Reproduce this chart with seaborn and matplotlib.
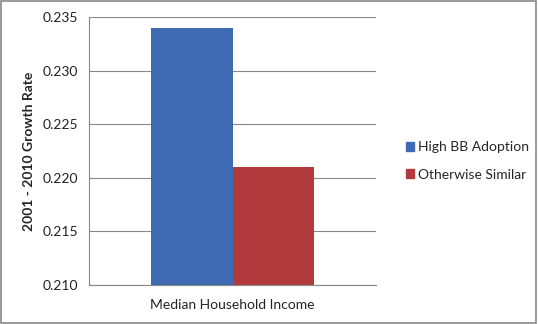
import matplotlib
matplotlib.use("Agg")
import matplotlib.pyplot as plt
import seaborn as sns
import pandas as pd
from matplotlib.patches import Rectangle

categories = ["Median Household Income"]
series = ["High BB Adoption", "Otherwise Similar"]
values = [0.234, 0.221]
yticks = [0.210, 0.215, 0.220, 0.225, 0.230, 0.235]
colors = ["#3E6BB1", "#B13A3C"]

df = pd.DataFrame({
    "category": categories * len(series),
    "series": series,
    "value": values,
})

sns.set_style("white")
plt.rcParams["font.family"] = ["Lato", "DejaVu Sans"]

fig = plt.figure(figsize=(5.38, 3.24), dpi=100)
ax = fig.add_axes([89/538, 39/324, 287/538, 268/324])

sns.barplot(data=df, x="category", y="value", hue="series", palette=colors,
            width=0.568, ax=ax, legend=False, saturation=1, linewidth=0)

fs = 10
ax.set_ylim(0.210, 0.235)
ax.set_xlim(-0.5, 0.5)
ax.set_yticks(yticks)
ax.set_yticklabels([f"{t:.3f}" for t in yticks], fontsize=fs, color="#222222")
ax.set_xticks([-0.5, 0.5], minor=True)
ax.set_xticks([0])
ax.set_xticklabels(categories, fontsize=fs, color="#222222")
ax.tick_params(axis="x", which="major", length=0, pad=10)
ax.tick_params(axis="x", which="minor", length=4, color="#888888", width=0.8)
ax.tick_params(axis="y", length=4, color="#888888", width=0.8, pad=4)
ax.set_axisbelow(True)
ax.yaxis.grid(True, color="#888888", linewidth=0.8)
ax.set_ylabel("2001 - 2010 Growth Rate", fontsize=fs, fontweight="bold", labelpad=5)
ax.set_xlabel("")
for s in ["top", "right"]:
    ax.spines[s].set_visible(False)
for s in ["left", "bottom"]:
    ax.spines[s].set_color("#888888")
    ax.spines[s].set_linewidth(0.8)

handles = [Rectangle((0, 0), 1, 1, color=c) for c in colors]
fig.legend(handles, series, loc="center left", bbox_to_anchor=(393/538, 0.503),
           frameon=False, fontsize=fs, handlelength=0.6, handleheight=0.6,
           handletextpad=0.3, labelspacing=1.1)

fig.patches.append(Rectangle((0.002, 0.003), 0.995, 0.994, transform=fig.transFigure,
                             fill=False, edgecolor="#888888", linewidth=1.2))

fig.savefig("out.png", dpi=100)
